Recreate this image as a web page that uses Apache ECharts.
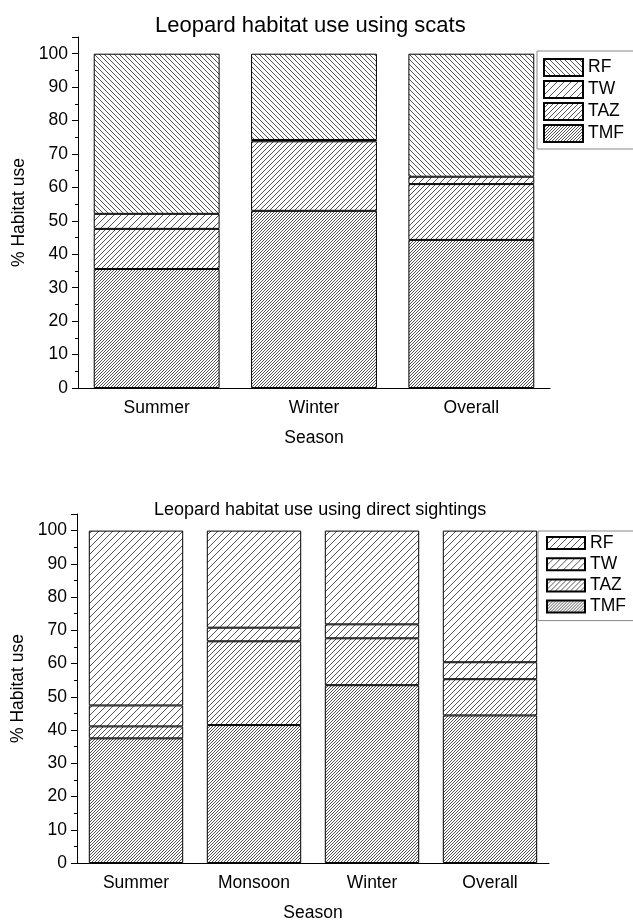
<!DOCTYPE html>
<html>
<head>
<meta charset="utf-8">
<script src="https://cdn.jsdelivr.net/npm/echarts@6/dist/echarts.min.js"></script>
<style>
html, body { margin: 0; padding: 0; background: #fff; }
#main { width: 633px; height: 923px; }
</style>
</head>
<body>
<div id="main"></div>
<script>
// data (stacked segments, %)
var topSeasons = ['Summer', 'Winter', 'Overall'];
var topTMF = [35.6, 53.0, 44.3];
var topTAZ = [12.0, 20.8, 16.7];
var topTW  = [4.5, 0.4, 2.2];
var topRF  = [47.9, 25.8, 36.8];

var botSeasons = ['Summer', 'Monsoon', 'Winter', 'Overall'];
var botTMF = [37.5, 41.5, 53.5, 44.4];
var botTAZ = [3.6, 25.2, 14.1, 10.9];
var botTW  = [6.3, 4.1, 4.2, 5.1];
var botRF  = [52.6, 29.2, 28.2, 39.6];

var FONT = '"Liberation Sans", Arial, sans-serif';

// diagonal hatch pattern, dir 1 = "/" , -1 = "\"
function hatch(step, dir) {
    var c = document.createElement('canvas');
    c.width = step; c.height = step;
    var g = c.getContext('2d');
    g.strokeStyle = '#555';
    g.lineWidth = 1;
    g.beginPath();
    if (dir > 0) {
        g.moveTo(-1, step + 1); g.lineTo(step + 1, -1);
        g.moveTo(-1, 1); g.lineTo(1, -1);
        g.moveTo(step - 1, step + 1); g.lineTo(step + 1, step - 1);
    } else {
        g.moveTo(-1, -1); g.lineTo(step + 1, step + 1);
        g.moveTo(step - 1, -1); g.lineTo(step + 1, 1);
        g.moveTo(-1, step - 1); g.lineTo(1, step + 1);
    }
    g.stroke();
    return { image: c, repeat: 'repeat' };
}

function bar(name, data, pattern, idx, stack) {
    return {
        name: name, type: 'bar', stack: stack,
        xAxisIndex: idx * 2, yAxisIndex: idx,
        barWidth: '80%',
        data: data,
        itemStyle: { color: pattern, borderColor: '#000', borderWidth: 1 },
        emphasis: { disabled: true }
    };
}

function xMain(data, grid) {
    return {
        type: 'category', gridIndex: grid, position: 'bottom', data: data,
        name: 'Season', nameLocation: 'middle', nameGap: 41,
        nameTextStyle: { fontFamily: FONT, fontSize: 17.5, color: '#000' },
        axisLine: { lineStyle: { color: '#000', width: 1 } },
        axisTick: { alignWithLabel: true, length: 7, lineStyle: { color: '#000' } },
        axisLabel: { margin: 11, fontFamily: FONT, fontSize: 17.5, color: '#000' }
    };
}
function xMinor(data, grid) {
    return {
        type: 'category', gridIndex: grid, position: 'bottom', data: data,
        axisLine: { show: false },
        axisTick: { length: 4, lineStyle: { color: '#000' } },
        axisLabel: { show: false }
    };
}
function yAxis(grid) {
    return {
        type: 'value', gridIndex: grid, min: 0, max: 105, interval: 10,
        name: '% Habitat use', nameLocation: 'middle', nameGap: 46,
        nameTextStyle: { fontFamily: FONT, fontSize: 17.5, color: '#000' },
        axisLine: { show: true, lineStyle: { color: '#000', width: 1 } },
        axisTick: { show: true, length: 6, lineStyle: { color: '#000' } },
        minorTick: { show: true, splitNumber: 2, length: 3, lineStyle: { color: '#000' } },
        splitLine: { show: false },
        axisLabel: { margin: 10, fontFamily: FONT, fontSize: 17.5, color: '#000', showMaxLabel: false }
    };
}

var chart = echarts.init(document.getElementById('main'), null, { renderer: 'canvas' });

var option = {
    animation: false,
    backgroundColor: '#fff',
    title: [
        { text: 'Leopard habitat use using scats', left: 150, top: 10,
          textStyle: { fontFamily: FONT, fontSize: 22, fontWeight: 'normal', color: '#000' } },
        { text: 'Leopard habitat use using direct sightings', left: 149, top: 496,
          textStyle: { fontFamily: FONT, fontSize: 18, fontWeight: 'normal', color: '#000' } }
    ],
    legend: [
        { data: ['RF', 'TW', 'TAZ', 'TMF'], orient: 'vertical', left: 537, top: 51,
          itemWidth: 39, itemHeight: 17, itemGap: 3, icon: 'rect',
          padding: [7, 12, 6, 6], borderColor: '#888', borderWidth: 1,
          selectedMode: false,
          textStyle: { fontFamily: FONT, fontSize: 17.5, color: '#000', lineHeight: 17 } },
        { data: ['RF ', 'TW ', 'TAZ ', 'TMF '], orient: 'vertical', left: 538, top: 531,
          itemWidth: 38, itemHeight: 12, itemGap: 3.2, icon: 'rect',
          padding: [3, 12, 5, 8], borderColor: '#888', borderWidth: 1,
          selectedMode: false,
          textStyle: { fontFamily: FONT, fontSize: 17.5, color: '#000', lineHeight: 12 } }
    ],
    grid: [
        { left: 78, right: 83, top: 37, bottom: 535 },
        { left: 77, right: 84, top: 514, bottom: 59 }
    ],
    xAxis: [xMain(topSeasons, 0), xMinor(topSeasons, 0), xMain(botSeasons, 1), xMinor(botSeasons, 1)],
    yAxis: [yAxis(0), yAxis(1)],
    series: [
        bar('TMF', topTMF, hatch(3, 1), 0, 'a'),
        bar('TAZ', topTAZ, hatch(5, 1), 0, 'a'),
        bar('TW', topTW, hatch(7, 1), 0, 'a'),
        bar('RF', topRF, hatch(5, -1), 0, 'a'),
        bar('TMF ', botTMF, hatch(3, 1), 1, 'b'),
        bar('TAZ ', botTAZ, hatch(5, 1), 1, 'b'),
        bar('TW ', botTW, hatch(7, 1), 1, 'b'),
        bar('RF ', botRF, hatch(7, 1), 1, 'b')
    ]
};
chart.setOption(option);
</script>
</body>
</html>
